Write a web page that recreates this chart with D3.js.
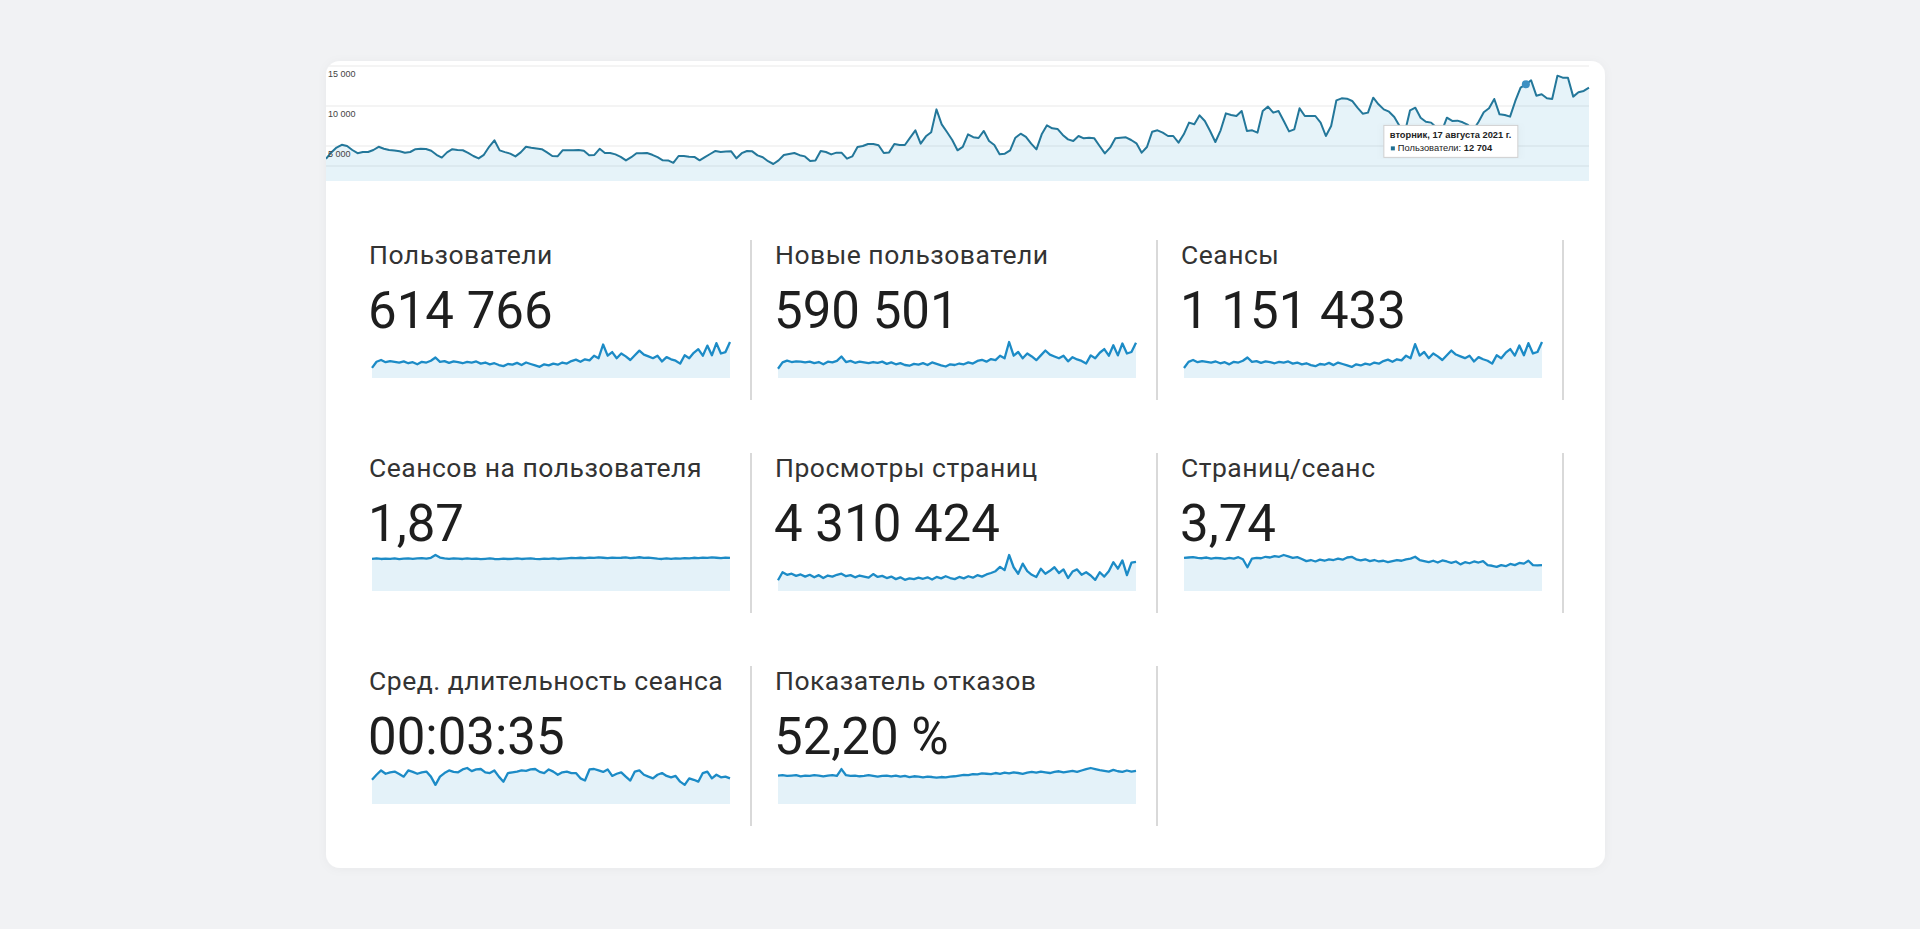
<!DOCTYPE html>
<html lang="ru">
<head>
<meta charset="utf-8">
<title>Обзор аудитории</title>
<script src="https://cdn.jsdelivr.net/npm/d3@7/dist/d3.min.js"></script>
<style>
  html, body { margin: 0; padding: 0; background: #f1f2f4; }
  svg { display: block; }
</style>
</head>
<body>
<div id="chart"></div>
<script>
// ---- main chart: users per day, 1 Jan – 29 Aug 2021 ----
const startDate = new Date(2021, 0, 1);
const dailyUsers = [
  3400,4200,4800,5150,5000,4500,4100,4250,4250,4500,
  4900,4650,4500,4450,4350,4150,4250,4600,4670,4620,
  4400,3900,3550,4200,4600,4500,4470,4150,3750,3450,
  3900,4900,5710,4450,4230,4050,3700,4200,4900,4790,
  4700,4600,4200,3750,3710,4480,4460,4460,4500,4400,
  3850,3880,4650,4130,4120,3950,3650,3200,3600,4100,
  4080,4120,3900,3600,3210,3200,2900,3750,3750,3670,
  3630,3210,3600,4000,4380,4250,4300,4330,3460,4100,
  4380,4330,3830,3600,3100,2750,3200,3880,4000,4130,
  3850,3700,3130,3200,4380,4250,3950,4170,4150,3420,
  3700,4880,5000,5250,5250,5100,4130,4200,5250,5130,
  5130,6050,6960,5290,6210,6710,9580,7710,6750,5750,
  4460,4880,6460,6100,6000,6880,5630,5130,3960,4040,
  4460,6040,6540,6130,5290,4580,6460,7580,7210,7130,
  6380,5830,5630,6250,5960,6040,5960,5000,4080,4790,
  5960,6040,6080,5750,5330,4170,4880,6790,6960,6670,
  6250,6250,5420,6460,7920,7710,8830,8130,6880,5500,
  6960,9080,8880,8750,9380,6880,6960,6670,9380,9920,
  9170,9380,8130,6830,7080,9710,8750,8750,8750,7920,
  6250,7500,10710,10960,10920,10630,9790,9040,9170,11040,
  10210,9580,9290,8630,7500,6700,9460,9790,8540,8040,
  7920,7300,6800,8540,8130,8170,7960,7630,7000,8000,
  9210,9710,10880,8960,8880,8670,10630,12290,12704,13210,
  11290,11460,10960,10880,13790,13540,13540,11170,11710,11880,
  12290
];
const yTicks = [15000, 10000, 5000];
const yTickLabels = ['15 000', '10 000', '5 000'];
const yMinorTicks = [2500];

// highlighted point (tooltip)
const hoverIndex = 228;
const hoverDateLabel = 'вторник, 17 августа 2021 г.';
const hoverSeriesLabel = 'Пользователи: ';
const hoverValueLabel = '12 704';

// ---- metric cards ----
const metricLabels = [
  'Пользователи', 'Новые пользователи', 'Сеансы',
  'Сеансов на пользователя', 'Просмотры страниц', 'Страниц/сеанс',
  'Сред. длительность сеанса', 'Показатель отказов'
];
const metricValues = [
  '614 766', '590 501', '1 151 433',
  '1,87', '4 310 424', '3,74',
  '00:03:35', '52,20 %'
];

// sparkline series (one value per step)
const sparkUsers = [
  2970,4770,5300,4660,4980,4770,4560,4880,4350,4660,
  4030,4770,4560,5090,6040,4770,4980,4450,4880,4660,
  4350,4770,4560,4880,4240,4560,4030,4350,3820,3500,
  4130,3920,4450,3820,4560,4130,3710,3290,4030,3710,
  4240,3920,4560,4240,4980,5410,4770,5510,5190,6570,
  5830,9860,6570,7630,5830,7210,6360,5300,6680,8060,
  6890,6360,5830,6570,4880,6150,5510,5090,4240,6680,
  5830,7420,8480,6570,9540,6680,10280,7210,7630,10600
];
const sparkNewUsers = [
  2550,4280,4790,4390,4590,4490,4280,4490,4080,4390,
  3770,4490,4280,4690,5920,4390,4690,4180,4490,4280,
  4080,4390,4180,4490,3880,4280,3770,4080,3570,3370,
  3880,3670,4080,3570,4280,3880,3470,3160,3770,3570,
  3980,3770,4280,3980,4690,5000,4490,5200,4900,6120,
  5410,9890,6120,7140,5410,6730,5920,4900,6220,7550,
  6430,5920,5410,6120,4590,5710,5100,4690,3980,6220,
  5410,6940,7960,6120,8980,6220,9490,6730,7140,9690
];
const sparkSessions = [
  5500,8900,9900,8700,9300,8900,8500,9100,8100,8700,
  7500,8900,8500,9500,11300,8900,9300,8300,9100,8700,
  8100,8900,8500,9100,7900,8500,7500,8100,7100,6500,
  7700,7300,8300,7100,8500,7700,6900,6100,7500,6900,
  7900,7300,8500,7900,9300,10100,8900,10300,9700,12300,
  10900,18600,12300,14300,10900,13500,11900,9900,12500,15100,
  12900,11900,10900,12300,9100,11500,10300,9500,7900,12500,
  10900,13900,15900,12300,17900,12500,19200,13500,14300,19800
];
const sparkSessionsPerUser = [
  1.86,1.88,1.85,1.87,1.86,1.88,1.84,1.87,1.89,1.86,
  1.88,1.90,1.87,1.92,2.08,1.93,1.88,1.86,1.89,1.87,
  1.85,1.88,1.86,1.87,1.84,1.86,1.88,1.85,1.84,1.87,
  1.85,1.86,1.88,1.85,1.87,1.89,1.86,1.84,1.87,1.86,
  1.88,1.85,1.87,1.89,1.91,1.90,1.92,1.90,1.93,1.91,
  1.94,1.92,1.90,1.93,1.91,1.92,1.94,1.90,1.92,1.95,
  1.91,1.93,1.90,1.87,1.85,1.88,1.86,1.89,1.87,1.90,
  1.88,1.92,1.90,1.93,1.91,1.94,1.92,1.90,1.93,1.91
];
const sparkPageviews = [
  11400,19760,17100,18240,15960,17480,15200,17100,14440,16720,
  13680,16340,15200,17100,18240,15580,16720,14440,16340,15200,
  14060,17860,14820,15960,13680,15200,12540,14440,11780,13300,
  12540,14060,12920,14440,12160,14820,13300,15580,13680,12540,
  14820,13300,15580,14060,16720,15200,17480,19000,20900,25460,
  22040,38000,25080,18240,28880,20900,17100,14820,23560,18240,
  21280,25080,19000,22800,13680,20520,22800,17100,19760,16340,
  11780,19760,15200,20900,30400,23560,32300,16720,30020,30780
];
const sparkPagesPerSession = [
  4.09,4.14,4.18,4.09,4.05,4.14,4.01,4.09,4.05,3.96,
  4.09,4.01,4.18,3.92,2.94,4.01,4.09,4.05,4.23,4.14,
  4.32,4.23,4.45,4.27,4.09,4.18,3.96,3.69,3.83,3.65,
  3.87,3.74,3.92,3.83,4.01,3.87,4.14,4.23,3.92,3.78,
  3.92,3.69,3.83,3.65,3.74,3.56,3.69,3.83,3.74,3.92,
  4.01,4.23,3.83,3.69,3.56,3.74,3.52,3.78,3.65,3.47,
  3.65,3.29,3.56,3.43,3.65,3.52,3.69,3.20,3.12,2.98,
  3.20,3.07,3.34,3.20,3.47,3.38,3.74,3.20,3.16,3.20
];
const sparkAvgDuration = [
  168,203,233,210,220,225,208,190,233,223,
  210,220,225,190,133,190,215,233,223,220,
  240,250,228,240,243,220,215,233,190,155,
  215,220,225,233,230,240,243,223,215,240,
  225,203,220,225,215,215,178,163,240,243,
  233,223,240,195,210,220,190,163,225,233,
  203,190,178,203,215,195,185,195,155,133,
  178,168,155,215,225,178,203,185,190,178
];
const sparkBounceRate = [
  45.4,46.0,44.9,45.4,46.0,44.3,45.4,44.9,46.0,45.4,
  44.3,45.4,46.0,44.9,55.8,46.0,44.9,45.4,44.3,44.9,
  46.0,44.9,43.7,44.9,45.4,44.3,45.4,43.7,44.9,43.1,
  44.3,43.7,42.6,43.7,43.1,42.0,43.1,42.6,43.7,44.3,
  45.4,46.6,46.0,47.7,47.2,48.9,48.3,47.7,49.5,48.3,
  50.0,48.9,50.6,49.5,48.3,50.0,51.2,50.0,51.8,50.6,
  49.5,51.2,52.3,50.6,51.8,52.9,51.2,53.5,55.8,57.5,
  55.8,54.1,52.9,51.8,54.6,52.3,51.2,53.5,51.8,52.9
];
const sparkSeries = [
  sparkUsers, sparkNewUsers, sparkSessions,
  sparkSessionsPerUser, sparkPageviews, sparkPagesPerSession,
  sparkAvgDuration, sparkBounceRate
];

// ---- layout ----
const width = 1920, height = 929;
const card = { x: 326, y: 61, w: 1279, h: 807, r: 14 };
const plot = { left: 326, right: 1589, top: 66, zero: 186, bottom: 181 };
const colX = [369, 775, 1181];
const rowY = [264, 477, 690];

const lineColor = '#23779a';
const sparkColor = '#1c8bc6';
const fillColor = '#058dc7';

const svg = d3.select('#chart')
  .append('svg')
  .attr('width', width)
  .attr('height', height)
  .attr('viewBox', [0, 0, width, height]);

const defs = svg.append('defs');

const shadow = defs.append('filter').attr('id', 'cardShadow')
  .attr('x', '-5%').attr('y', '-5%').attr('width', '110%').attr('height', '110%');
shadow.append('feDropShadow')
  .attr('dx', 0).attr('dy', 1).attr('stdDeviation', 5)
  .attr('flood-color', '#000').attr('flood-opacity', 0.04);

defs.append('clipPath').attr('id', 'cardClip')
  .append('rect')
  .attr('x', card.x).attr('y', card.y)
  .attr('width', card.w).attr('height', card.h)
  .attr('rx', card.r);

svg.append('rect')
  .attr('x', card.x).attr('y', card.y)
  .attr('width', card.w).attr('height', card.h)
  .attr('rx', card.r)
  .attr('fill', '#fff')
  .attr('filter', 'url(#cardShadow)');

// ---- main users chart ----
const dates = dailyUsers.map((_, i) => d3.timeDay.offset(startDate, i));

const x = d3.scaleTime()
  .domain(d3.extent(dates))
  .range([plot.left, plot.right]);

const y = d3.scaleLinear()
  .domain([0, 15000])
  .range([plot.zero, plot.top]);

const main = svg.append('g').attr('clip-path', 'url(#cardClip)');

main.append('g')
  .selectAll('line')
  .data(yTicks.concat(yMinorTicks))
  .join('line')
  .attr('x1', plot.left).attr('x2', plot.right)
  .attr('y1', d => y(d)).attr('y2', d => y(d))
  .attr('stroke', '#e9e9e9')
  .attr('stroke-width', 1);

main.append('path')
  .datum(dailyUsers)
  .attr('fill', fillColor)
  .attr('fill-opacity', 0.1)
  .attr('d', d3.area()
    .x((d, i) => x(dates[i]))
    .y0(plot.bottom)
    .y1(d => y(d)));

main.append('path')
  .datum(dailyUsers)
  .attr('fill', 'none')
  .attr('stroke', lineColor)
  .attr('stroke-width', 2)
  .attr('stroke-linejoin', 'round')
  .attr('d', d3.line()
    .x((d, i) => x(dates[i]))
    .y(d => y(d)));

main.append('g')
  .selectAll('text')
  .data(yTicks)
  .join('text')
  .attr('x', plot.left + 2)
  .attr('y', d => y(d) + 11)
  .attr('font-family', 'Arial, "Liberation Sans", sans-serif')
  .attr('font-size', 9)
  .attr('fill', '#444')
  .text((d, i) => yTickLabels[i]);

// hover dot + tooltip
const hx = x(dates[hoverIndex]);
const hy = y(dailyUsers[hoverIndex]);

main.append('circle')
  .attr('cx', hx).attr('cy', hy).attr('r', 4)
  .attr('fill', '#3b8fc2');

const tip = main.append('g')
  .attr('transform', `translate(${hx - 142},${hy + 41})`);

tip.append('rect')
  .attr('width', 134).attr('height', 32)
  .attr('fill', '#fff')
  .attr('stroke', '#cfcfcf')
  .attr('stroke-width', 1)
  .attr('filter', 'url(#cardShadow)');

tip.append('text')
  .attr('x', 6).attr('y', 13)
  .attr('font-family', 'Arial, "Liberation Sans", sans-serif')
  .attr('font-size', 9.3)
  .attr('font-weight', 'bold')
  .attr('fill', '#222')
  .text(hoverDateLabel);

tip.append('rect')
  .attr('x', 7).attr('y', 21)
  .attr('width', 4).attr('height', 4)
  .attr('fill', '#1f6f92');

const tipLine = tip.append('text')
  .attr('x', 14).attr('y', 25.5)
  .attr('font-family', 'Arial, "Liberation Sans", sans-serif')
  .attr('font-size', 9.3)
  .attr('fill', '#222');
tipLine.append('tspan').text(hoverSeriesLabel);
tipLine.append('tspan').attr('font-weight', 'bold').text(hoverValueLabel);

// ---- metric cards ----
const cards = svg.append('g');

metricLabels.forEach((label, k) => {
  const col = k % 3;
  const row = Math.floor(k / 3);
  const cx = colX[col];
  const base = rowY[row];
  const g = cards.append('g');

  g.append('text')
    .attr('x', cx).attr('y', base)
    .attr('font-family', 'Roboto, "Noto Sans", sans-serif')
    .attr('font-size', 26.5)
    .attr('letter-spacing', 0.5)
    .attr('fill', '#333')
    .text(label);

  g.append('text')
    .attr('x', cx - 1).attr('y', base + 64)
    .attr('font-family', 'Roboto, "Noto Sans", sans-serif')
    .attr('font-size', 51)
    .attr('fill', '#1e1e1e')
    .text(metricValues[k]);

  const data = sparkSeries[k];
  const sBottom = base + 114;
  const sx = d3.scaleLinear()
    .domain([0, data.length - 1])
    .range([cx + 3, cx + 361]);
  const sy = d3.scaleLinear()
    .domain([0, d3.max(data)])
    .range([sBottom, sBottom - 36]);

  g.append('path')
    .datum(data)
    .attr('fill', fillColor)
    .attr('fill-opacity', 0.11)
    .attr('d', d3.area()
      .x((d, i) => sx(i))
      .y0(sBottom)
      .y1(d => sy(d)));

  g.append('path')
    .datum(data)
    .attr('fill', 'none')
    .attr('stroke', sparkColor)
    .attr('stroke-width', 2.3)
    .attr('stroke-linejoin', 'round')
    .attr('d', d3.line()
      .x((d, i) => sx(i))
      .y(d => sy(d)));

  // divider to the right of each filled cell
  g.append('line')
    .attr('x1', cx + 382).attr('x2', cx + 382)
    .attr('y1', base - 24).attr('y2', base + 136)
    .attr('stroke', '#cdcdcd')
    .attr('stroke-width', 1.5);
});
</script>
</body>
</html>
